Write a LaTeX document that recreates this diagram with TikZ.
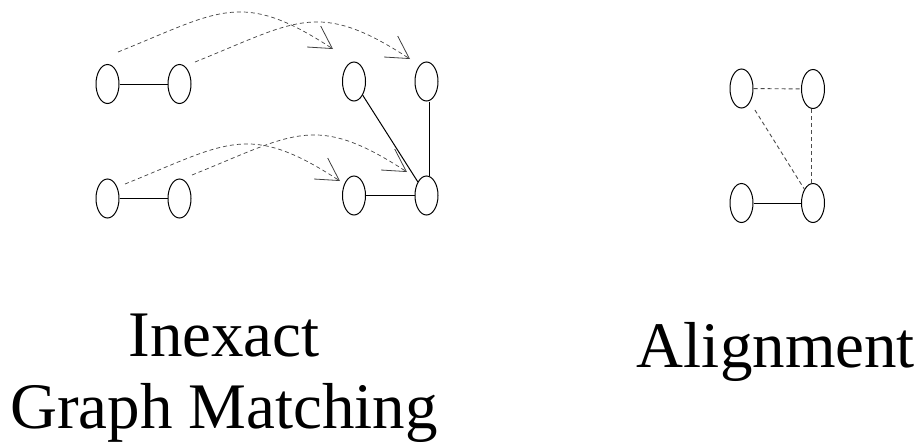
\documentclass[tikz,border=0pt]{standalone}
\usepackage{fontspec}
\setmainfont{Liberation Serif}
\usetikzlibrary{shapes.geometric,arrows.meta}
\begin{document}
\begin{tikzpicture}[x=1pt,y=-1pt,
  vert/.style={ellipse,draw,line width=1pt,minimum width=23pt,minimum height=39pt,inner sep=0pt},
  edge/.style={line width=1pt},
  match/.style={dash pattern=on 4pt off 3pt,line width=0.7pt,draw=black!75,
    -{Straight Barb[length=22pt,width=25pt,line width=0.8pt]}},
  aligned/.style={line width=0.9pt,dash pattern=on 4pt off 3pt,draw=black!70},
  lbl/.style={anchor=base,font=\fontsize{65}{72}\selectfont,inner sep=0pt}]
\useasboundingbox (0,0) rectangle (920,442);
% left graphs
\node[vert] (n1) at (107.5,84) {};
\node[vert] (n2) at (179.5,84) {};
\node[vert] (n5) at (107.5,198.5) {};
\node[vert] (n6) at (179.5,198.5) {};
% target graph
\node[vert] (n3) at (354,81.5) {};
\node[vert] (n4) at (426.5,81.5) {};
\node[vert] (n7) at (354,195.5) {};
\node[vert] (n8) at (426.5,195.5) {};
\draw[edge] (n1) -- (n2);
\draw[edge] (n5) -- (n6);
\draw[edge] (n7) -- (n8);
\draw[edge] (n3) -- (n8);
\draw[edge] ([xshift=3pt]n4.south) -- ([xshift=3pt]n8.north);
% matching arrows
\coordinate (s1) at (118,52);  \coordinate (t1) at (333,49);
\coordinate (s2) at (195,62);  \coordinate (t2) at (410,59);
\coordinate (s3) at (125,184); \coordinate (t3) at (340,181);
\coordinate (s4) at (192,175); \coordinate (t4) at (407,172);
\draw[match] (s1) .. controls (220,11) and (241,-11) .. (t1);
\draw[match] (s2) .. controls (297,21) and (318,-1) .. (t2);
\draw[match] (s3) .. controls (227,143) and (248,121) .. (t3);
\draw[match] (s4) .. controls (294,134) and (315,112) .. (t4);
% alignment
\node[vert] (a) at (741.5,88.5) {};
\node[vert] (b) at (813,89) {};
\node[vert] (c) at (741.5,203) {};
\node[vert] (d) at (813,203) {};
\draw[aligned] (a) -- (b);
\draw[aligned] ([xshift=-2pt]b.south) -- ([xshift=-2pt]d.north);
\draw[aligned,shorten <=9pt] (a) -- (d);
\draw[edge] (c) -- (d);
% labels
\node[lbl] (l1) at (224,356) {Inexact};
\node[lbl] (l2) at (224,428) {Graph Matching};
\node[lbl] (l3) at (776,367) {Alignment};
\end{tikzpicture}
\end{document}
